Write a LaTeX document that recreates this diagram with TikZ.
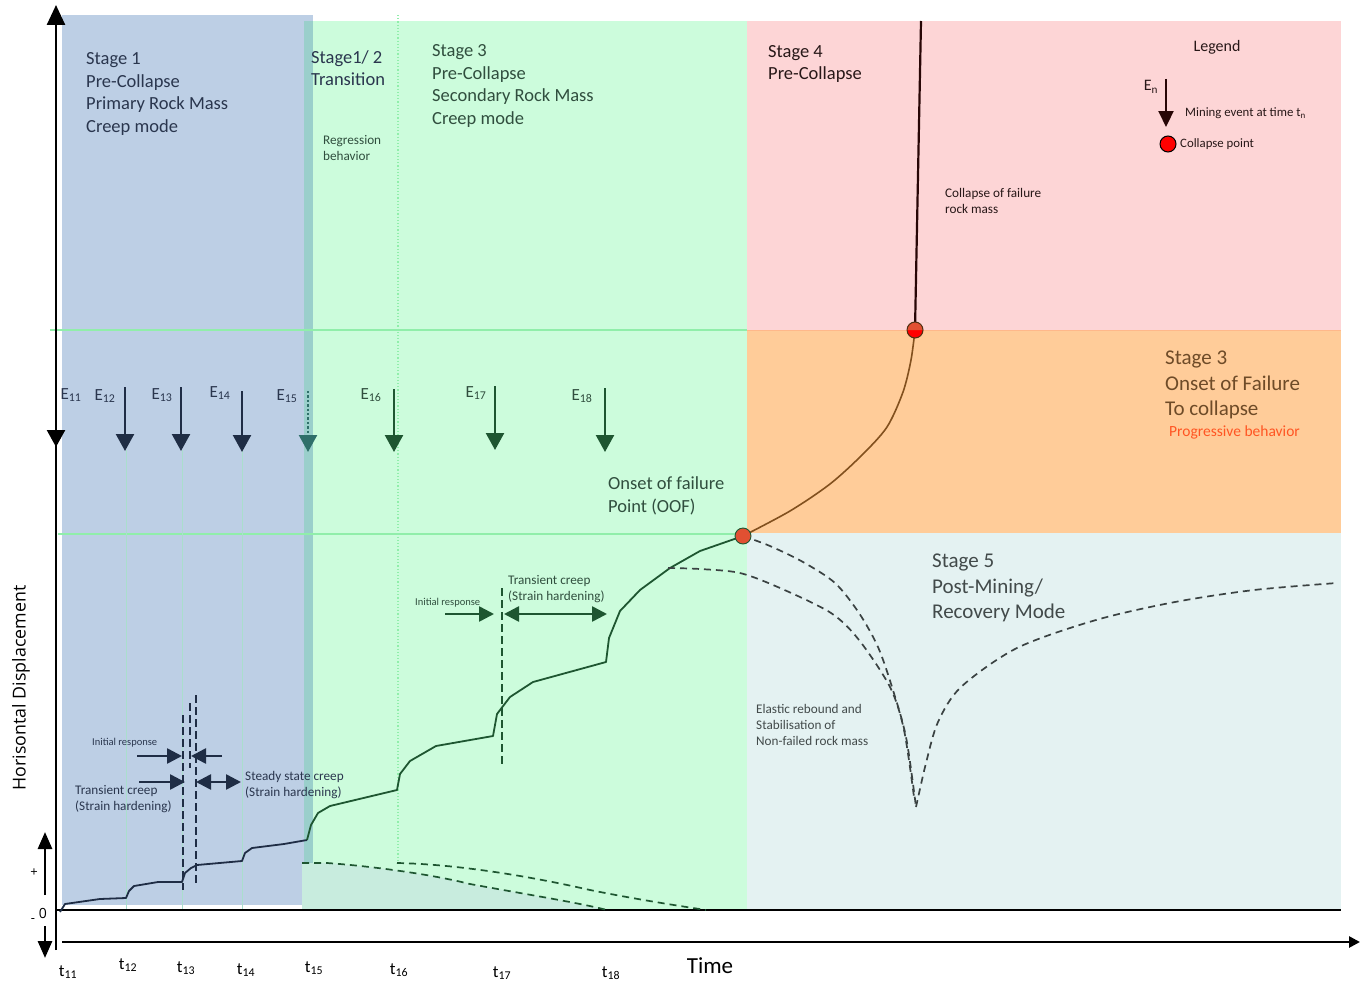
\documentclass[tikz,border=0pt]{standalone}
\usepackage{fontspec}
\setmainfont{Carlito}
\newfontfamily\osans{Open Sans}
\usetikzlibrary{arrows.meta}

\definecolor{bgblue}{RGB}{189,207,229}
\definecolor{bggreen}{RGB}{204,252,220}
\definecolor{bgpink}{RGB}{253,213,214}
\definecolor{bgorange}{RGB}{255,204,153}
\definecolor{bgpost}{RGB}{228,242,242}
\definecolor{bgstrip}{RGB}{154,207,203}
\definecolor{bgunder}{RGB}{200,236,222}
\definecolor{gridgreen}{RGB}{144,238,170}
\definecolor{paleline}{RGB}{170,222,205}
\definecolor{navy}{RGB}{31,45,69}
\definecolor{dgreen}{RGB}{30,86,49}
\definecolor{tealarrow}{RGB}{47,111,106}
\definecolor{txtblue}{RGB}{42,54,78}
\definecolor{txtgreen}{RGB}{48,78,62}
\definecolor{txtdark}{RGB}{40,24,24}
\definecolor{txtbrown}{RGB}{110,75,40}
\definecolor{progred}{RGB}{255,85,35}
\definecolor{txtgray}{RGB}{66,74,74}
\definecolor{brownline}{RGB}{130,80,30}
\definecolor{dashgray}{RGB}{58,66,66}
\definecolor{collapsedark}{RGB}{40,6,6}
\definecolor{oofred}{RGB}{225,80,50}

\begin{document}
\begin{tikzpicture}[x=1pt,y=-1pt,
  lbl/.style={inner sep=0pt,anchor=west,align=left},
  bigtxt/.style={font=\fontsize{18.5}{22.5}\selectfont},
  hugetxt/.style={font=\fontsize{21}{25.5}\selectfont},
  smalltxt/.style={font=\fontsize{13.2}{16}\selectfont},
  tinytxt/.style={font=\fontsize{10.5}{12}\selectfont},
  elbl/.style={inner sep=0pt,font=\fontsize{17}{20}\selectfont},
  tlbl/.style={inner sep=0pt,font=\fontsize{17}{20}\selectfont,text=black},
  event/.style={line width=2.4pt,-{Triangle[width=18pt,length=17pt]}},
  marker/.style={line width=2.6pt,-{Triangle[width=15pt,length=15pt]}},
  bimarker/.style={line width=2.6pt,{Triangle[width=15pt,length=15pt]}-{Triangle[width=15pt,length=15pt]}},
  curve/.style={line width=1.8pt,line join=round},
  dashcurve/.style={line width=1.7pt,dash pattern=on 7pt off 5pt},
  vdash/.style={line width=1.7pt,dash pattern=on 8pt off 4pt},
  axis/.style={line width=2.6pt,black},
  pale/.style={paleline,line width=0.9pt}]
\useasboundingbox (0,0) rectangle (1360,982);

% ---------- stage regions ----------
\fill[bggreen] (304,21) rectangle (747,910);
\fill[bgblue] (62,15) rectangle (313,905);
\fill[bgstrip] (304,21) rectangle (313,905);
\fill[bgpink] (747,21) rectangle (1341,330);
\fill[bgorange] (747,330) rectangle (1341,533);
\fill[bgpost] (747,533) rectangle (1341,910);
\draw[color={rgb,255:red,255;green,184;blue,138},line width=1pt] (747,330) -- (1341,330);

% area beneath the first recovery curve
\fill[bgunder] (302,863) -- (327,863) .. controls (370,866) and (430,874) .. (470,884)
  .. controls (530,895) and (580,903) .. (607,910) -- (302,910) -- cycle;

% ---------- guide lines ----------
\draw[gridgreen,line width=1.2pt] (50,330) -- (747,330);
\draw[gridgreen,line width=1.2pt] (58,534) -- (747,534);
\draw[gridgreen,line width=1.2pt,dotted] (398,15) -- (398,863);
\foreach \gx in {126,182,242}
  \draw[pale] (\gx,450) -- (\gx,910);

% ---------- axes ----------
\draw[axis] (57,910) -- (1341,910);
\draw[axis,-{Triangle[width=11pt,length=11pt]}] (62,942) -- (1360,942);
\draw[axis,-{Triangle[width=18pt,length=20pt]}] (56,950) -- (56,5);
\coordinate (e11top) at (56,395);
\coordinate (e11tip) at (56,447);
\draw[event,black] (e11top) -- (e11tip);
\draw[line width=2.8pt,-{Triangle[width=14pt,length=17pt]}] (45,895) -- (45,832);
\draw[line width=2.8pt,-{Triangle[width=14pt,length=17pt]}] (45,926) -- (45,958);
\node[inner sep=0pt,font=\osans\fontsize{13}{14}\selectfont] (plus) at (34,873) {+};
\node[inner sep=0pt,font=\osans\fontsize{14}{15}\selectfont] (zero) at (43,913) {0};
\node[inner sep=0pt,font=\osans\fontsize{13}{14}\selectfont] (minus) at (33,921) {-};
\node[inner sep=0pt,rotate=90,font=\osans\fontsize{17.8}{19}\selectfont] (ylabel) at (21,688) {Horisontal Displacement};
\node[inner sep=0pt,font=\fontsize{23}{26}\selectfont] (xlabel) at (710,966) {Time};

% ---------- time labels ----------
\node[tlbl] (t11) at (68,972) {t\textsubscript{11}};
\node[tlbl] (t12) at (128,965) {t\textsubscript{12}};
\node[tlbl] (t13) at (186,968) {t\textsubscript{13}};
\node[tlbl] (t14) at (246,970) {t\textsubscript{14}};
\node[tlbl] (t15) at (314,968) {t\textsubscript{15}};
\node[tlbl] (t16) at (399,970) {t\textsubscript{16}};
\node[tlbl] (t17) at (502,973) {t\textsubscript{17}};
\node[tlbl] (t18) at (611,973) {t\textsubscript{18}};

% ---------- mining events ----------
\node[elbl,text=txtblue] (E11) at (71,395) {E\textsubscript{11}};
\node[elbl,text=txtblue] (E12) at (105,396) {E\textsubscript{12}};
\node[elbl,text=txtblue] (E13) at (162,395) {E\textsubscript{13}};
\node[elbl,text=txtblue] (E14) at (220,393) {E\textsubscript{14}};
\node[elbl,text=txtblue] (E15) at (287,396) {E\textsubscript{15}};
\node[elbl,text=txtgreen] (E16) at (371,395) {E\textsubscript{16}};
\node[elbl,text=txtgreen] (E17) at (476,393) {E\textsubscript{17}};
\node[elbl,text=txtgreen] (E18) at (582,396) {E\textsubscript{18}};
\draw[event,navy] (125,387) -- (125,451);
\draw[event,navy] (181,387) -- (181,451);
\draw[event,navy] (242,391) -- (242,452);
\draw[event,tealarrow,dotted] (308,391) -- (308,452);
\draw[event,dgreen] (394,389) -- (394,452);
\draw[event,dgreen] (495,386) -- (495,450);
\draw[event,dgreen] (605,388) -- (605,452);

% ---------- displacement curve ----------
\draw[curve,navy] (60,912) -- (65,904) -- (100,899) -- (126,898) -- (129,891) -- (134,886)
  -- (158,882) -- (182,882) -- (185,873) -- (191,868) -- (197,865) -- (242,861)
  -- (245,853) -- (252,848) -- (284,844) -- (307,840);
\draw[curve,dgreen] (307,840) -- (311,825) -- (318,813) -- (330,806) -- (397,790)
  -- (400,774) -- (410,761) -- (436,746) -- (493,736) -- (497,714) -- (510,697)
  -- (533,682) -- (606,662) -- (609,638) -- (620,611) -- (640,590) -- (670,568)
  -- (700,551) -- (743,536);
\draw[curve,brownline,line width=1.6pt] plot[smooth] coordinates
  {(743,536) (790,511) (830,484) (862,455) (887,427) (903,392) (911,360) (915,330)};
\draw[collapsedark,line width=2.2pt] (921,21) -- (915,330);

% recovery curves (dashed)
\draw[dashcurve,dgreen] (302,863) -- (327,863) .. controls (370,866) and (430,874) .. (470,884)
  .. controls (530,895) and (580,903) .. (607,910);
\draw[dashcurve,dgreen] (397,863) .. controls (450,864) and (520,874) .. (590,890)
  .. controls (640,900) and (680,906) .. (706,910);
\draw[dashcurve,dashgray] plot[smooth] coordinates
  {(743,536) (770,546) (803,562) (835,583) (859,613) (878,647) (892,687) (906,737) (916,807)};
\draw[dashcurve,dashgray] plot[smooth] coordinates
  {(668,568) (700,569) (740,573) (780,588) (831,613) (859,640) (890,687) (904,730) (914,797)};
\draw[dashcurve,dashgray] plot[smooth] coordinates
  {(916,807) (926,763) (938,722) (961,687) (1017,648) (1096,620) (1175,602) (1254,590) (1337,583)};

% key points
\node[circle,minimum size=16pt,inner sep=0pt,fill=oofred,draw=dgreen,line width=0.9pt] (oof) at (743,536) {};
\begin{scope}
  \fill[red] (907,330) arc[start angle=180,end angle=0,radius=8];
  \fill[oofred] (907,330) arc[start angle=180,end angle=360,radius=8];
\end{scope}
\node[circle,minimum size=16pt,inner sep=0pt,draw=brownline!60!black,line width=1pt] (collapse) at (915,330) {};

% ---------- annotations: primary creep ----------
\draw[vdash,navy] (183,715) -- (183,890);
\draw[vdash,navy] (190,703) -- (190,768);
\draw[vdash,navy] (196,695) -- (196,885);
\node[lbl,tinytxt,text=txtblue] (initb) at (92,743) {Initial response};
\draw[marker,navy] (137,756) -- (182,756);
\draw[marker,navy] (222,756) -- (191,756);
\draw[marker,navy] (139,782) -- (185,782);
\draw[bimarker,navy] (196,782) -- (241,782);
\node[lbl,smalltxt,text=txtblue] (transb) at (75,799) {Transient creep\\(Strain hardening)};
\node[lbl,smalltxt,text=txtblue] (steady) at (245,785) {Steady state creep\\(Strain hardening)};

% ---------- annotations: secondary creep ----------
\draw[vdash,dgreen] (502,588) -- (502,765);
\node[lbl,tinytxt,text=txtgreen] (initg) at (415,603) {Initial response};
\draw[marker,dgreen] (445,614) -- (494,614);
\draw[bimarker,dgreen] (504,614) -- (607,614);
\node[lbl,smalltxt,text=txtgreen] (transg) at (508,589) {Transient creep\\(Strain hardening)};

% ---------- stage texts ----------
\node[lbl,bigtxt,text=txtblue] (s1) at (86,94) {Stage 1\\Pre-Collapse\\Primary Rock Mass\\Creep mode};
\node[lbl,bigtxt,text=txtblue] (s12) at (311,68) {Stage1/ 2\\Transition};
\node[lbl,smalltxt,text=txtgreen] (regr) at (323,148) {Regression\\behavior};
\node[lbl,bigtxt,text=txtgreen] (s3) at (432,86) {Stage 3\\Pre-Collapse\\Secondary Rock Mass\\Creep mode};
\node[lbl,bigtxt,text=txtdark] (s4) at (768,64) {Stage 4\\Pre-Collapse};
\node[lbl,smalltxt,text=txtdark] (collfail) at (945,201) {Collapse of failure\\rock mass};
\node[lbl,hugetxt,text=txtbrown] (s3o) at (1165,385) {Stage 3\\Onset of Failure\\To collapse};
\node[lbl,font=\fontsize{15.5}{18}\selectfont,text=progred] (prog) at (1169,432) {Progressive behavior};
\node[lbl,bigtxt,text=txtgreen] (oofl) at (608,496) {Onset of failure\\Point (OOF)};
\node[lbl,hugetxt,text=txtgray] (s5) at (932,588) {Stage 5\\Post-Mining/\\Recovery Mode};
\node[lbl,smalltxt,text=txtgray] (elastic) at (756,725) {Elastic rebound and\\Stabilisation of\\Non-failed rock mass};

% ---------- legend ----------
\node[inner sep=0pt,font=\fontsize{16}{18}\selectfont,text=txtdark] (legend) at (1217,47) {Legend};
\node[inner sep=0pt,font=\fontsize{16}{18}\selectfont,text=txtdark] (En) at (1151,87) {E\textsubscript{n}};
\draw[line width=2.2pt,collapsedark,-{Triangle[width=15pt,length=16pt]}] (1166,79) -- (1166,127);
\node[lbl,font=\fontsize{12.8}{15}\selectfont,text=txtdark] (mining) at (1185,113) {Mining event at time t\textsubscript{n}};
\node[circle,minimum size=16pt,inner sep=0pt,fill=red,draw=black,line width=1pt] (legdot) at (1168,144) {};
\node[lbl,font=\fontsize{12.8}{15}\selectfont,text=txtdark] (legdotl) at (1180,144) {Collapse point};
\end{tikzpicture}
\end{document}
